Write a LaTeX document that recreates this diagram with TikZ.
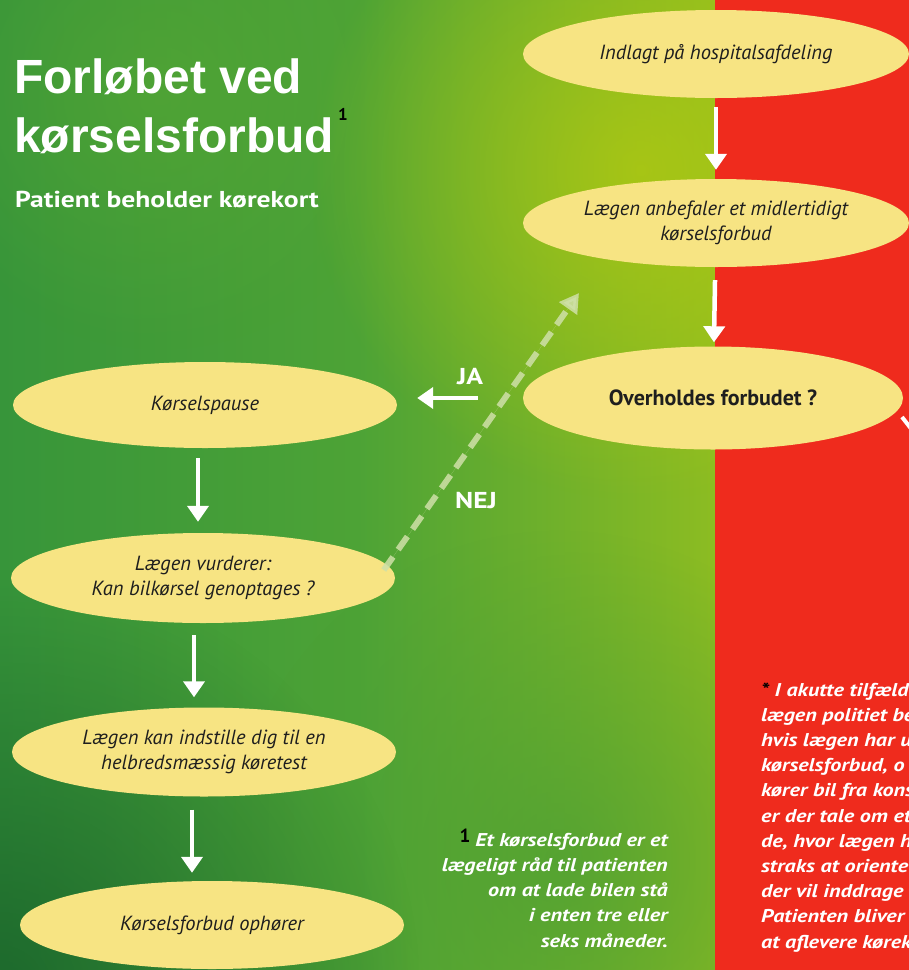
\documentclass[tikz,border=0pt]{standalone}
\usepackage{fontspec}
\setmainfont{PT Sans}
\newfontfamily\titlefont{Liberation Sans}
\newfontfamily\widefont[FakeStretch=1.2]{PT Sans}
\usetikzlibrary{shapes.geometric,arrows.meta,fadings}
\tikzfading[name=radfade, inner color=transparent!0, outer color=transparent!100]
\definecolor{ellfill}{HTML}{F7E483}
\definecolor{redbg}{HTML}{EF2B1D}
\definecolor{gA}{HTML}{37953A}
\definecolor{gB}{HTML}{4DA336}
\definecolor{gC}{HTML}{8CBC22}
\definecolor{gDark}{HTML}{145A28}
\definecolor{gMid}{HTML}{4A9E35}
\definecolor{gLight}{HTML}{58A833}
\definecolor{gYel}{HTML}{B4CA10}
\definecolor{nejcol}{HTML}{CFE0A8}
\definecolor{txt}{HTML}{1E1E1E}
\tikzset{
  ell/.style={ellipse, fill=ellfill, inner sep=0pt, align=center, text=txt,
    font=\fontsize{20.5}{25}\selectfont\itshape},
  arr/.style={draw=white, line width=4.5pt, -{Triangle[width=21pt,length=16pt]}},
  nejarr/.style={draw=nejcol, draw opacity=0.85, fill=nejcol, fill opacity=0.85, line width=6pt,
    dash pattern=on 16pt off 9pt, -{Triangle[width=21pt,length=19pt]}},
  lbl/.style={text=white, font=\widefont\bfseries\fontsize{23}{23}\selectfont, inner sep=0pt},
  note/.style={text=white, inner sep=0pt, font=\widefont\bfseries\itshape\fontsize{18.5}{25.2}\selectfont},
}
\begin{document}
\begin{tikzpicture}[x=1pt,y=-1pt]
\useasboundingbox (0,0) rectangle (909,970);
% background
\shade[left color=gA, right color=gC, middle color=gB] (0,0) rectangle (715,970);
\fill[gLight, path fading=radfade, fill opacity=0.6] (160,90) circle (260);
\fill[gYel, path fading=radfade, fill opacity=0.75] (640,170) circle (330);
\fill[gMid, path fading=radfade, fill opacity=0.7] (560,860) circle (330);
\fill[gDark, path fading=radfade, fill opacity=0.75] (0,990) circle (420);
\fill[redbg] (715,0) rectangle (909,970);

% title
\node[font=\titlefont\bfseries\fontsize{48}{59}\selectfont, text=white, anchor=base west, align=left, inner sep=0pt] (title) at (14,152) {Forløbet ved\\kørselsforbud};
\node[font=\bfseries\fontsize{17}{17}\selectfont, text=black, anchor=base, inner sep=0pt] (sup1) at (343,120) {1};
\node[font=\widefont\bfseries\fontsize{23}{23}\selectfont, text=white, anchor=base west, inner sep=0pt] (sub) at (15,207) {Patient beholder kørekort};

% flow nodes
\node[ell, minimum width=386pt, minimum height=88pt] (n1) at (716,54) {Indlagt på hospitalsafdeling};
\node[ell, minimum width=386pt, minimum height=88pt] (n2) at (716,223) {Lægen anbefaler et midlertidigt\\kørselsforbud};
\node[ell, minimum width=380pt, minimum height=103pt, font=\bfseries\fontsize{22}{22}\selectfont] (n3) at (713,398) {Overholdes forbudet ?};
\node[ell, minimum width=384pt, minimum height=86pt] (n4) at (205,405) {Kørselspause};
\node[ell, minimum width=384pt, minimum height=90pt] (n5) at (203,578) {Lægen vurderer:\\Kan bilkørsel genoptages ?};
\node[ell, minimum width=384pt, minimum height=89pt] (n6) at (204,752) {Lægen kan indstille dig til en\\helbredsmæssig køretest};
\node[ell, minimum width=384pt, minimum height=88pt] (n7) at (212,925) {Kørselsforbud ophører};

% arrows
\draw[arr, shorten <=9pt, shorten >=9pt] (n1) -- (n2);
\draw[arr, shorten <=13pt, shorten >=4pt] (n2) -- (n3);
\draw[arr, shorten <=10pt, shorten >=11pt] ([xshift=-7pt]n4.south) -- ([xshift=-5pt]n5.north);
\draw[arr, shorten <=12pt, shorten >=10pt] ([xshift=-9pt]n5.south) -- ([xshift=-10pt]n6.north);
\draw[arr, shorten <=13pt, shorten >=8pt] ([xshift=-12pt]n6.south) -- ([xshift=-20pt]n7.north);
\draw[arr, line width=4pt, shorten <=45pt, shorten >=20pt] (n3.west) -- (n3.west -| n4.east);
\node[lbl] (ja) at (470,377) {JA};

\coordinate (nejend) at (579,293);
\draw[nejarr, shorten <=-6pt] (n5.4) -- (nejend);
\node[lbl] (nej) at (476,501) {NEJ};

\coordinate (rs) at (902,417);
\coordinate (re) at (916,435);
\draw[white, line width=4pt] (rs) -- (re);

% footnote
\node[note, anchor=base east, align=right] (fn) at (668,947) {Et kørselsforbud er et\\lægeligt råd til patienten\\om at lade bilen stå\\i enten tre eller\\seks måneder.};
\node[font=\bfseries\fontsize{19}{19}\selectfont, text=black, anchor=base, inner sep=0pt] (fn1) at (465,842) {1};

% red note
\node[note, anchor=base west, align=left] (rn) at (761,948) {{\color{black}*} I akutte tilfælde\\lægen politiet be\\hvis lægen har u\\kørselsforbud, o\\kører bil fra kons\\er der tale om et\\de, hvor lægen h\\straks at oriente\\der vil inddrage\\Patienten bliver\\at aflevere kørek};
\end{tikzpicture}
\end{document}
